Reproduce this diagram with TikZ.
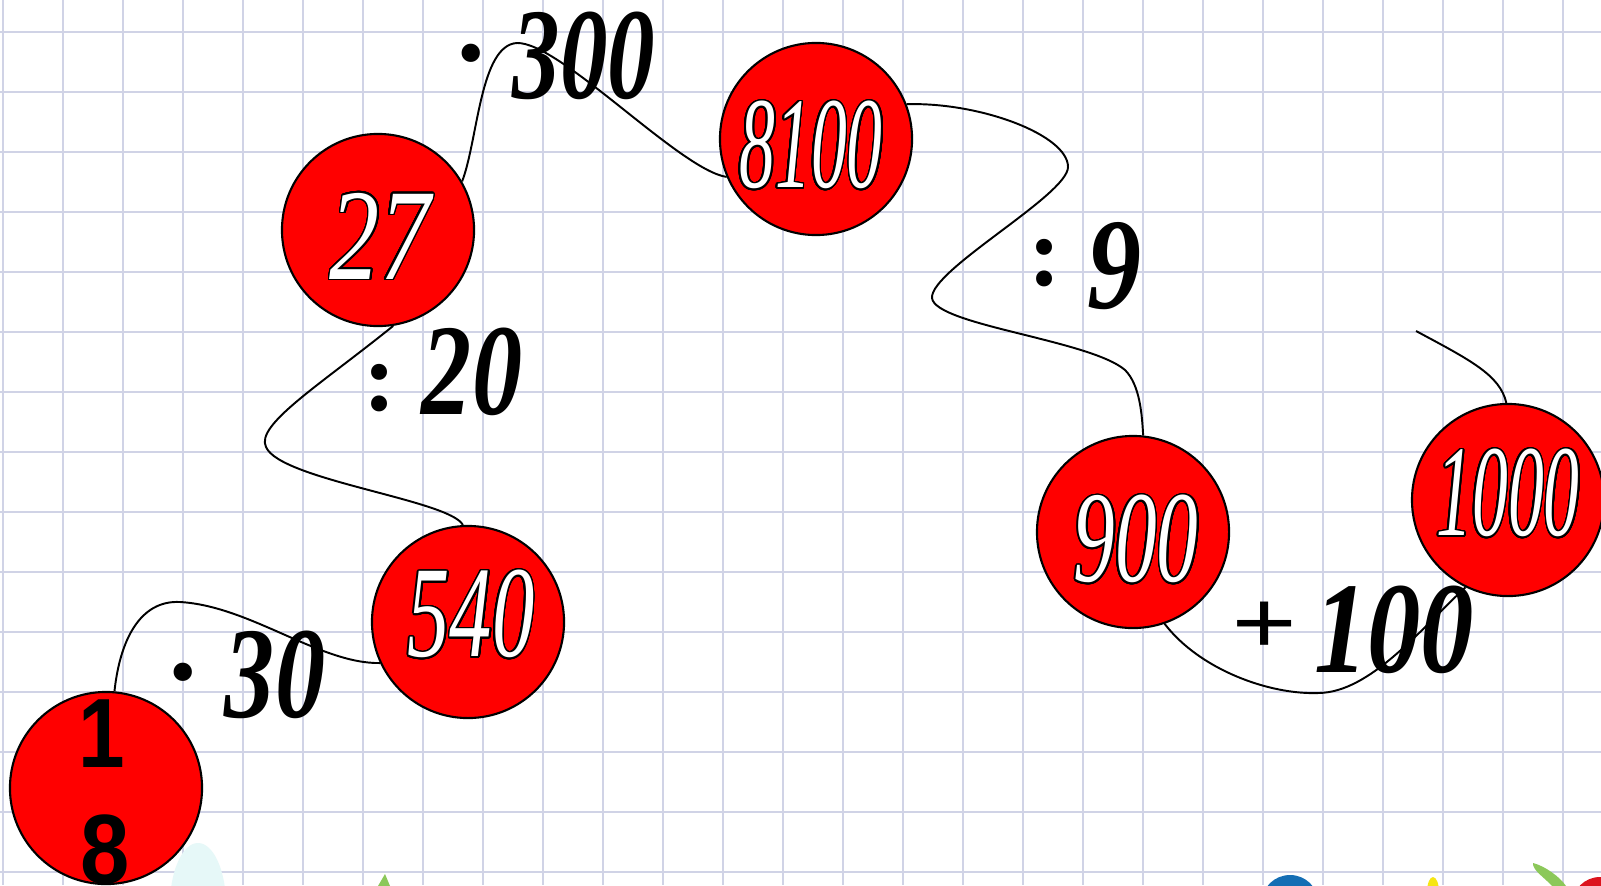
\documentclass[tikz,border=0pt]{standalone}
\usepackage{fontspec}
\usepackage{graphicx}
\usepackage{contour}
\contourlength{0.45pt}
\contournumber{32}
\newfontfamily\serifnum{Liberation Serif}
\newfontfamily\sansnum{Liberation Sans}
\definecolor{gridc}{RGB}{208,211,230}
\definecolor{ballred}{RGB}{255,0,0}
\definecolor{faintcyan}{RGB}{230,248,248}
\definecolor{decoblue}{RGB}{20,110,180}
\definecolor{decoyellow}{RGB}{246,230,20}
\definecolor{decogreen}{RGB}{140,200,90}
\definecolor{decored}{RGB}{220,20,30}
\begin{document}
\begin{tikzpicture}[x=0.01cm,y=-0.01cm,
  gridline/.style={draw=gridc, line width=0.025cm},
  ball/.style={circle, draw=black, line width=0.6pt, fill=ballred, minimum size=1.92cm, inner sep=0pt},
  link/.style={draw=black, line width=0.55pt},
  numtext/.style={text=white, font=\serifnum\itshape\fontsize{37}{40}\selectfont, inner sep=0pt},
  optext/.style={text=black, font=\serifnum\bfseries\itshape\fontsize{37}{40}\selectfont, inner sep=0pt},
  opdot/.style={text=black, font=\serifnum\bfseries\fontsize{32}{34}\selectfont, inner sep=0pt},
  opcolon/.style={text=black, font=\serifnum\bfseries\fontsize{28}{30}\selectfont, inner sep=0pt},
  opplus/.style={text=black, font=\serifnum\bfseries\fontsize{33}{35}\selectfont, inner sep=0pt},
  bignum/.style={text=black, font=\sansnum\bfseries\fontsize{28}{30}\selectfont, inner sep=0pt, anchor=base},
]
\useasboundingbox (0,0) rectangle (1601,885);
\clip (0,0) rectangle (1601,885);
\fill[white] (0,0) rectangle (1601,885);
% grid
\foreach \i in {0,...,26} \draw[gridline] ({3+60*\i},0) -- ({3+60*\i},885);
\foreach \j in {0,...,14} \draw[gridline] (0,{32+60*\j}) -- (1601,{32+60*\j});
% bottom decorations
\fill[faintcyan] (198,905) ellipse [x radius=28, y radius=62];
\fill[decogreen] (378,886) -- (385,874) -- (390,886) -- cycle;
\fill[decoblue] (1290,902) ellipse [x radius=28, y radius=27];
\fill[decoyellow] (1433,892) ellipse [x radius=6, y radius=15];
\fill[decogreen] (1533,863) .. controls (1545,866) and (1560,877) .. (1566,886) -- (1552,886) .. controls (1545,878) and (1532,870) .. cycle;
\fill[decored] (1600,905) circle (28);
% balls
\node[ball] (c18) at (106,788) {};
\node[ball] (c27) at (378,230) {};
\node[ball] (c540) at (468,622) {};
\node[ball] (c8100) at (816,139) {};
\node[ball] (c900) at (1133,532) {};
\node[ball] (c1000) at (1508,500) {};
\coordinate (free) at (1416,331);
% connectors
\draw[link] (c18.85) .. controls (120,640) and (140,600) .. (180,602) .. controls (250,606) and (320,664) .. (c540.205);
\draw[link] (c27.279) .. controls (320,385) and (255,425) .. (266,447) .. controls (280,480) and (450,500) .. (c540.93);
\draw[link] (c27.30) .. controls (478,140) and (480,45) .. (517,43) .. controls (560,42) and (680,170) .. (c8100.203);
\draw[link] (c8100.21) .. controls (980,102) and (1068,135) .. (1068,167) .. controls (1068,195) and (930,270) .. (932,298) .. controls (935,325) and (1090,340) .. (1125,370) .. controls (1140,385) and (1142,415) .. (c900.84);
\draw[link] (c900.289) .. controls (1200,670) and (1270,695) .. (1319,693) .. controls (1370,692) and (1420,630) .. (c1000.244);
\draw[link] (c1000.91) .. controls (1500,375) and (1470,360) .. (free);
% ball texts
\node[bignum] (t1) at (102,767) {\scalebox{0.85}[1]{1}};
\node[bignum] (t8) at (105,883) {\scalebox{0.9}[1]{8}};
\node[numtext] (t27) at (380,237) {\contour{black}{\scalebox{0.77}[1]{27}}};
\node[numtext] (t540) at (471,615) {\contour{black}{\scalebox{0.65}[1]{540}}};
\node[numtext] (t8100) at (811,146) {\contour{black}{\scalebox{0.55}[1]{8100}}};
\node[numtext] (t900) at (1136,540) {\contour{black}{\scalebox{0.64}[1]{900}}};
\node[numtext] (t1000) at (1508,494) {\contour{black}{\scalebox{0.55}[1]{1000}}};
% operation labels
\node[opdot] (d30) at (183,686) {·};
\node[optext] (n30) at (275,675) {\scalebox{0.77}[1]{30}};
\node[opdot] (d300) at (471,67) {·};
\node[optext] (n300) at (584,56) {\scalebox{0.73}[1]{300}};
\node[opcolon] (k20) at (380,388) {:};
\node[optext] (n20) at (472,372) {\scalebox{0.77}[1]{20}};
\node[opcolon] (k9) at (1045,263) {:};
\node[optext] (n9) at (1114,266) {\scalebox{0.83}[1]{9}};
\node[opplus] (p100) at (1265,628) {\scalebox{1}[0.8]{+}};
\node[optext] (n100) at (1394,630) {\scalebox{0.82}[1]{100}};
\end{tikzpicture}
\end{document}
